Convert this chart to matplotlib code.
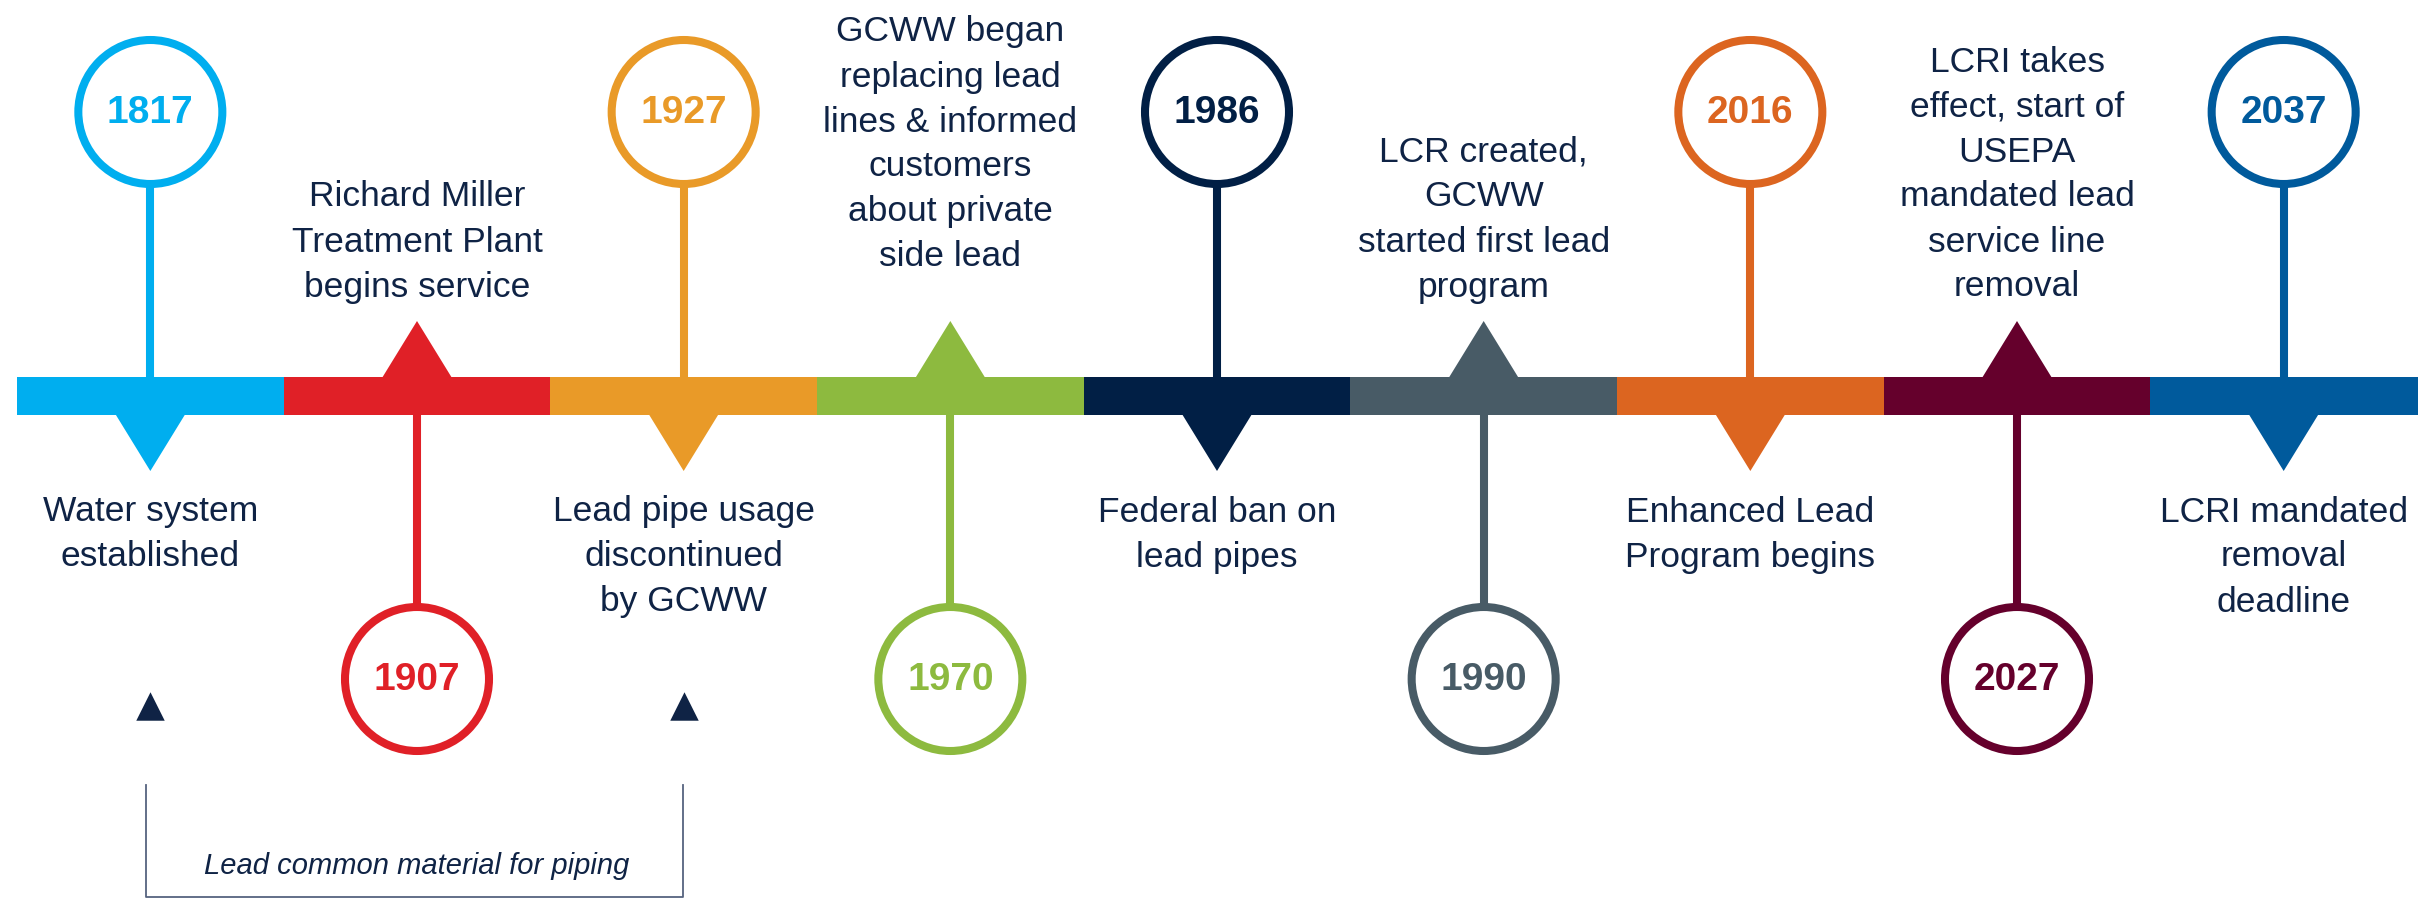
import matplotlib
matplotlib.use('Agg')
import matplotlib.pyplot as plt
from matplotlib.patches import Rectangle, Circle, Polygon

# Timeline data
years = ['1817', '1907', '1927', '1970', '1986', '1990', '2016', '2027', '2037']
descriptions = [
    'Water system\nestablished',
    'Richard Miller\nTreatment Plant\nbegins service',
    'Lead pipe usage\ndiscontinued\nby GCWW',
    'GCWW began\nreplacing lead\nlines & informed\ncustomers\nabout private\nside lead',
    'Federal ban on\nlead pipes',
    'LCR created,\nGCWW\nstarted first lead\nprogram',
    'Enhanced Lead\nProgram begins',
    'LCRI takes\neffect, start of\nUSEPA\nmandated lead\nservice line\nremoval',
    'LCRI mandated\nremoval\ndeadline',
]
colors = ['#00aeef', '#e02027', '#e99a28', '#8dba3f', '#011f45',
          '#485b66', '#dc6520', '#65002c', '#005a9c']
span_label = 'Lead common material for piping'
span_years = ('1817', '1927')

text_color = '#0f2345'

# layout (pixels, figure is 2433 x 900)
W, H = 2433, 900
bar_left, bar_right = 17, 2417
bar_top, bar_bot = 377, 415
seg_w = (bar_right - bar_left) / len(years)
circle_r = 72
ring_lw = 5.8
tri_half, tri_h = 35, 56
line_gap = 45
top_text_shift = {'1970': -30}

fig = plt.figure(figsize=(W / 100, H / 100), dpi=100)
ax = fig.add_axes([0, 0, 1, 1])
ax.set_xlim(0, W)
ax.set_ylim(H, 0)
ax.axis('off')

xs = []
for i, (yr, desc, c) in enumerate(zip(years, descriptions, colors)):
    x = bar_left + (i + 0.5) * seg_w
    xs.append(x)
    ax.add_patch(Rectangle((bar_left + i * seg_w, bar_top), seg_w + 0.5,
                           bar_bot - bar_top, color=c, lw=0, zorder=2))
    lines = desc.split('\n')
    if i % 2 == 0:
        # year circle above the bar, arrow and text below
        cy = 112
        ax.plot([x, x], [cy + circle_r, bar_top + 2], color=c, lw=5.8,
                solid_capstyle='butt', zorder=1)
        ax.add_patch(Polygon([(x - tri_half, bar_bot - 1), (x + tri_half, bar_bot - 1),
                              (x, bar_bot + tri_h)], color=c, lw=0, zorder=2))
        for k, ln in enumerate(lines):
            ax.text(x, 512 + k * line_gap, ln, ha='center', va='center',
                    fontsize=25.5, family='Liberation Sans', color=text_color)
    else:
        # year circle below the bar, arrow and text above
        cy = 679
        ax.plot([x, x], [bar_bot - 2, cy - circle_r], color=c, lw=5.8,
                solid_capstyle='butt', zorder=1)
        ax.add_patch(Polygon([(x - tri_half, bar_top + 1), (x + tri_half, bar_top + 1),
                              (x, bar_top - tri_h)], color=c, lw=0, zorder=2))
        last = 287 + top_text_shift.get(yr, 0)
        n = len(lines)
        for k, ln in enumerate(lines):
            ax.text(x, last - (n - 1 - k) * line_gap, ln, ha='center', va='center',
                    fontsize=25.5, family='Liberation Sans', color=text_color)
    ax.add_patch(Circle((x, cy), circle_r, facecolor='white', edgecolor=c,
                        lw=ring_lw, zorder=3))
    ax.text(x, cy + 1, yr, ha='center', va='center', fontsize=28,
            fontweight='bold', family='Liberation Sans', color=c, zorder=4)

# bracket for the span of years
xa = xs[years.index(span_years[0])]
xb = xs[years.index(span_years[1])]
ax.scatter([xa, xb], [706, 706], marker='^', s=420, color=text_color, lw=0)
ax.plot([xa - 4, xa - 4, xb - 1, xb - 1], [785, 897, 897, 785],
        color='#56637f', lw=1.3)
ax.text((xa + xb) / 2, 866, span_label, ha='center', va='center',
        fontsize=21, style='italic', family='Liberation Sans', color=text_color)

fig.savefig('out.png', dpi=100, facecolor='white')
